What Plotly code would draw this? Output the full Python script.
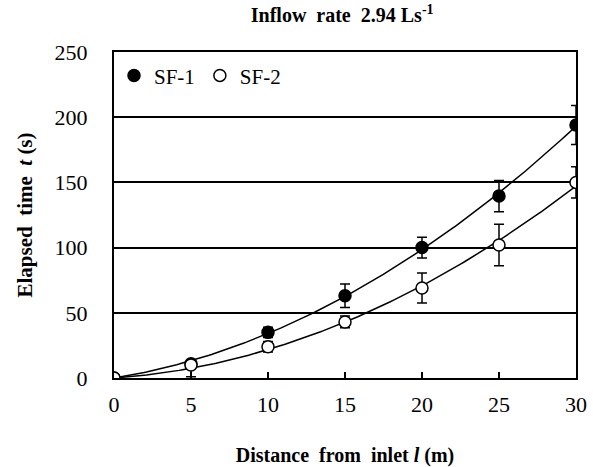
import numpy as np
import plotly.graph_objects as go

distance = [0, 5, 10, 15, 20, 25, 30]
sf1_time = [0, 11, 35, 63, 100, 139.5, 194]
sf1_err = [0, 0, 4, 9, 8, 12, 15]
sf2_time = [0, 10, 24, 43, 69, 102, 150]
sf2_err_plus = [0, 2, 4, 4.5, 11.5, 16, 12]
sf2_err_minus = [0, 9, 4, 4.5, 11.5, 16, 12]

x_ticks = [0, 5, 10, 15, 20, 25, 30]
y_ticks = [0, 50, 100, 150, 200, 250]

FONT = "Liberation Serif"


def fit_through_origin(x, y):
    x = np.asarray(x, float)
    y = np.asarray(y, float)
    A = np.column_stack([x ** 2, x])
    coef, *_ = np.linalg.lstsq(A, y, rcond=None)
    return coef


xs = np.linspace(0, 30, 200)
a1, b1 = fit_through_origin(distance, sf1_time)
a2, b2 = fit_through_origin(distance, sf2_time)

fig = go.Figure()
fig.add_trace(go.Scatter(x=xs, y=a1 * xs ** 2 + b1 * xs, mode="lines",
                         line=dict(color="black", width=1.5), showlegend=False, hoverinfo="skip"))
fig.add_trace(go.Scatter(x=xs, y=a2 * xs ** 2 + b2 * xs, mode="lines",
                         line=dict(color="black", width=1.5), showlegend=False, hoverinfo="skip"))
fig.add_trace(go.Scatter(
    x=distance, y=sf1_time, mode="markers", name="SF-1",
    marker=dict(symbol="circle", size=12, color="black", line=dict(color="black", width=1.5)),
    error_y=dict(type="data", array=sf1_err, color="black", thickness=1.5, width=5),
))
fig.add_trace(go.Scatter(
    x=distance, y=sf2_time, mode="markers", name="SF-2",
    marker=dict(symbol="circle", size=12, color="white", line=dict(color="black", width=1.5)),
    error_y=dict(type="data", array=sf2_err_plus, arrayminus=sf2_err_minus,
                 color="black", thickness=1.5, width=5),
))

fig.update_layout(
    width=593, height=467,
    margin=dict(l=114, r=17, t=52, b=89),
    paper_bgcolor="white", plot_bgcolor="white",
    font=dict(family=FONT, size=21, color="black"),
    title=dict(text="<b>Inflow  rate  2.94 Ls<sup>-1</sup></b>", x=0.577, xanchor="center",
               y=0.982, yanchor="top", font=dict(family=FONT, size=20, color="black")),
    legend=dict(orientation="h", x=0.0, y=0.99, xanchor="left", yanchor="top",
                bgcolor="rgba(0,0,0,0)", font=dict(family=FONT, size=21),
                itemwidth=30, tracegroupgap=0),
    showlegend=True,
)
fig.update_xaxes(
    range=[0, 30], tickvals=x_ticks, ticks="inside", ticklen=6, tickwidth=1.5, tickcolor="black",
    showline=True, linecolor="black", linewidth=2, mirror=True, showgrid=False, zeroline=False,
    title=dict(text="<b>Distance  from  inlet <i>l</i> (m)</b>", font=dict(family=FONT, size=20), standoff=34),
    tickfont=dict(family=FONT, size=22), ticklabelstandoff=6, automargin=False,
)
fig.update_yaxes(
    range=[0, 250], tickvals=y_ticks, ticks="", showline=True, linecolor="black", linewidth=2, mirror=True,
    showgrid=True, gridcolor="black", gridwidth=1.5, zeroline=False,
    title=dict(text="<b>Elapsed  time  <i>t</i> (s)</b>", font=dict(family=FONT, size=21), standoff=16),
    tickfont=dict(family=FONT, size=22), ticklabelstandoff=20, automargin=False,
)

fig.write_html("out.html")
